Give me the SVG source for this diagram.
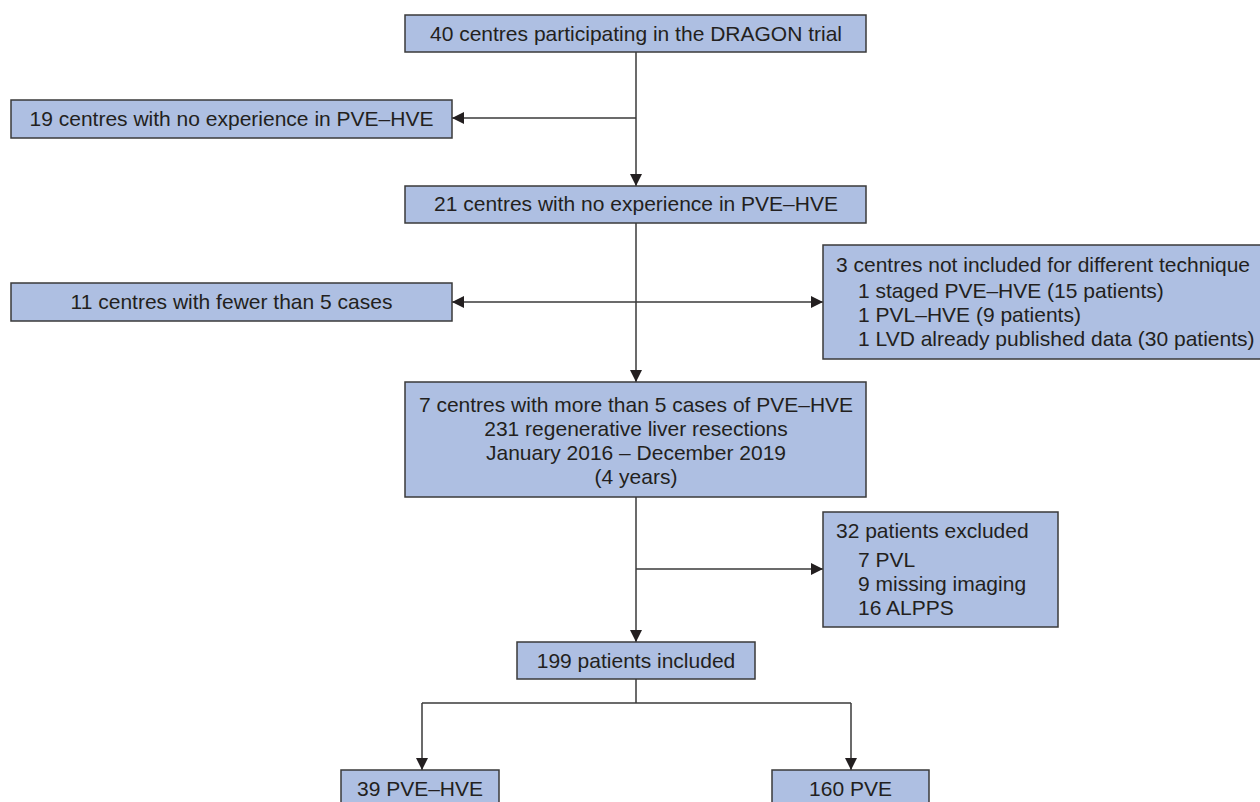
<svg xmlns="http://www.w3.org/2000/svg" width="1260" height="802" viewBox="0 0 1260 802">
<style>
.box{fill:#aebfe2;stroke:#3a3a3a;stroke-width:1.5}
.t{font-family:"Liberation Sans",Arial,sans-serif;font-size:21px;fill:#231f20}
.c{text-anchor:middle}
.ln{fill:none;stroke:#3a3a3a;stroke-width:1.5}
</style>
<defs>
<marker id="ah" viewBox="0 0 12 12" refX="12" refY="6" markerWidth="12" markerHeight="12" markerUnits="userSpaceOnUse" orient="auto">
<path d="M0,0 L12,6 L0,12 z" fill="#231f20"/>
</marker>
</defs>
<rect width="1260" height="802" fill="#ffffff"/>
<g id="connectors">
<path class="ln" d="M636,52 V186" marker-end="url(#ah)"/>
<path class="ln" d="M636,118 H452" marker-end="url(#ah)"/>
<path class="ln" d="M636,223 V382" marker-end="url(#ah)"/>
<path class="ln" d="M636,302 H452" marker-end="url(#ah)"/>
<path class="ln" d="M636,302 H823" marker-end="url(#ah)"/>
<path class="ln" d="M636,497 V642" marker-end="url(#ah)"/>
<path class="ln" d="M636,569 H823" marker-end="url(#ah)"/>
<path class="ln" d="M636,679 V703"/>
<path class="ln" d="M422,703 H851"/>
<path class="ln" d="M422,703 V770" marker-end="url(#ah)"/>
<path class="ln" d="M851,703 V770" marker-end="url(#ah)"/>
</g>
<g id="n1">
<rect class="box" x="405" y="15" width="461" height="37"/>
<text class="t c" x="636" y="41">40 centres participating in the DRAGON trial</text>
</g>
<g id="n2">
<rect class="box" x="11" y="100" width="441" height="38"/>
<text class="t c" x="231.5" y="126">19 centres with no experience in PVE–HVE</text>
</g>
<g id="n3">
<rect class="box" x="405" y="186" width="461" height="37"/>
<text class="t c" x="636" y="211">21 centres with no experience in PVE–HVE</text>
</g>
<g id="n4">
<rect class="box" x="11" y="283" width="441" height="38"/>
<text class="t c" x="231.5" y="309">11 centres with fewer than 5 cases</text>
</g>
<g id="n5">
<rect class="box" x="823" y="245" width="450" height="114"/>
<text class="t" x="836" y="272">3 centres not included for different technique</text>
<text class="t" x="858" y="298">1 staged PVE–HVE (15 patients)</text>
<text class="t" x="858" y="322">1 PVL–HVE (9 patients)</text>
<text class="t" x="858" y="346">1 LVD already published data (30 patients)</text>
</g>
<g id="n6">
<rect class="box" x="405" y="382" width="461" height="115"/>
<text class="t c" x="636" y="412">7 centres with more than 5 cases of PVE–HVE</text>
<text class="t c" x="636" y="436">231 regenerative liver resections</text>
<text class="t c" x="636" y="460">January 2016 – December 2019</text>
<text class="t c" x="636" y="484">(4 years)</text>
</g>
<g id="n7">
<rect class="box" x="823" y="512" width="235" height="115"/>
<text class="t" x="836" y="538">32 patients excluded</text>
<text class="t" x="858" y="567">7 PVL</text>
<text class="t" x="858" y="591">9 missing imaging</text>
<text class="t" x="858" y="615">16 ALPPS</text>
</g>
<g id="n8">
<rect class="box" x="517" y="642" width="238" height="37"/>
<text class="t c" x="636" y="668">199 patients included</text>
</g>
<g id="n9">
<rect class="box" x="341" y="770" width="158" height="40"/>
<text class="t c" x="420" y="796">39 PVE–HVE</text>
</g>
<g id="n10">
<rect class="box" x="772" y="770" width="157" height="40"/>
<text class="t c" x="850.5" y="796">160 PVE</text>
</g>
</svg>
